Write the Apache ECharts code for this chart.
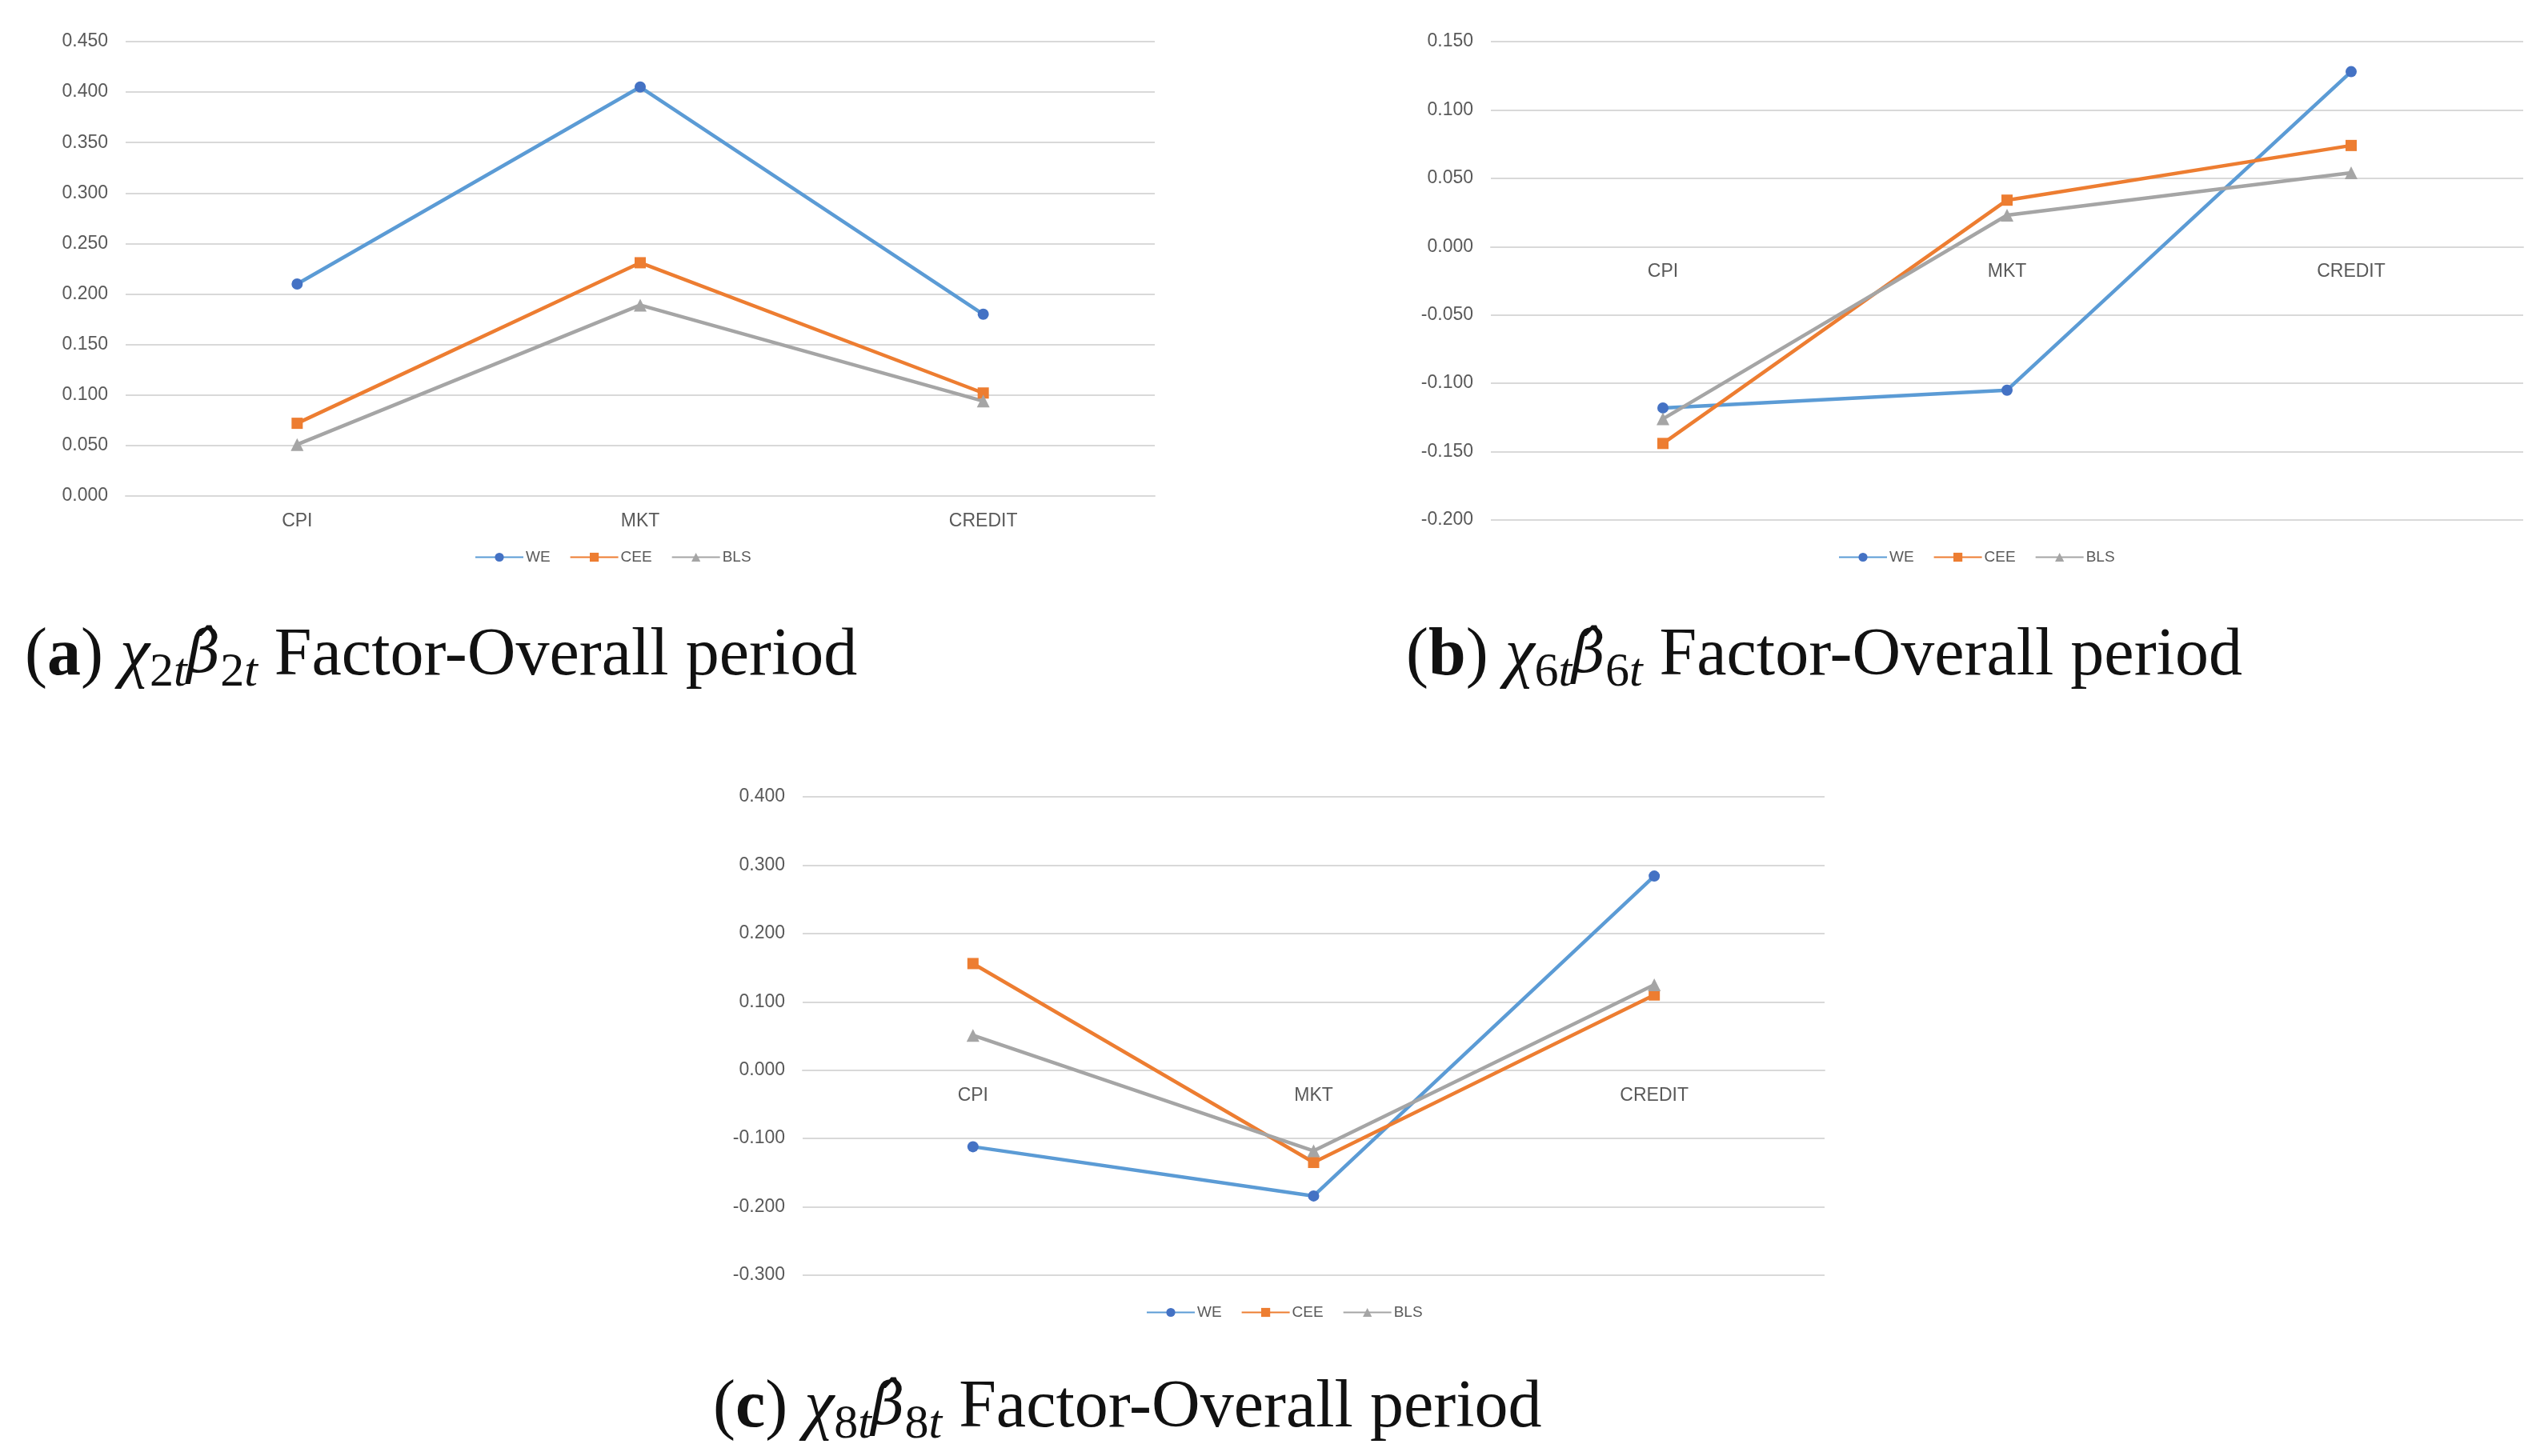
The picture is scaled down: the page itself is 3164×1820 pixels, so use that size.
<!DOCTYPE html>
<html>
<head>
<meta charset="utf-8">
<script src="https://cdn.jsdelivr.net/npm/echarts@6/dist/echarts.min.js"></script>
<style>
  html, body { margin: 0; padding: 0; background: #fff; }
  #chart { width: 3164px; height: 1820px; }
</style>
</head>
<body>
<div id="chart"></div>
<script>
/* ---------- data ---------- */
const categories = ['CPI', 'MKT', 'CREDIT'];
const seriesNames = ['WE', 'CEE', 'BLS'];

// (a) chi_2t beta_2t
const weA  = [0.210, 0.405, 0.180];
const ceeA = [0.072, 0.231, 0.102];
const blsA = [0.051, 0.189, 0.094];

// (b) chi_6t beta_6t
const weB  = [-0.118, -0.105, 0.128];
const ceeB = [-0.144, 0.034, 0.074];
const blsB = [-0.126, 0.023, 0.054];

// (c) chi_8t beta_8t
const weC  = [-0.112, -0.184, 0.284];
const ceeC = [0.156, -0.135, 0.110];
const blsC = [0.051, -0.118, 0.125];

// y axis ticks: [min, max, step]
const ticksA = [0, 0.45, 0.05];
const ticksB = [-0.2, 0.15, 0.05];
const ticksC = [-0.3, 0.4, 0.1];

const panelTags = ['a', 'b', 'c'];
const panelSubs = ['2', '6', '8'];

/* ---------- styles ---------- */
const lineColors   = ['#5B9BD5', '#ED7D31', '#A5A5A5'];
const markerColors = ['#4472C4', '#ED7D31', '#A5A5A5'];
const symbols      = ['circle', 'rect', 'triangle'];
const labelFont = 'Liberation Sans';
const textGrey = '#595959';

const chart = echarts.init(document.getElementById('chart'));

// panel layout (pixels)
const panels = [
  { grid: { left: 157, top: 52, width: 1286, height: 568 }, legend: { left: 588, top: 682 }, title: { left: 26, top: 764 } },
  { grid: { left: 1863, top: 52, width: 1290, height: 598 }, legend: { left: 2292, top: 682 }, title: { left: 1752, top: 764 } },
  { grid: { left: 1003, top: 996, width: 1277, height: 598 }, legend: { left: 1427, top: 1626 }, title: { left: 886, top: 1704 } }
];
const panelData = [[weA, ceeA, blsA], [weB, ceeB, blsB], [weC, ceeC, blsC]];
const panelTicks = [ticksA, ticksB, ticksC];

const grids = [], xAxes = [], yAxes = [], legends = [], titles = [], series = [];

const serif = 'Liberation Serif';
const capRich = {
  n:  { fontFamily: serif, fontSize: 84, fontWeight: 'normal', color: '#111', lineHeight: 104, verticalAlign: 'middle' },
  bd: { fontFamily: serif, fontSize: 84, fontWeight: 'bold', color: '#111', lineHeight: 104, verticalAlign: 'middle' },
  it: { fontFamily: serif, fontSize: 84, fontWeight: 'normal', fontStyle: 'italic', color: '#111', lineHeight: 104, verticalAlign: 'middle' },
  bh: { fontFamily: 'DejaVu Serif', fontSize: 72, fontWeight: 'normal', fontStyle: 'italic', color: '#111', lineHeight: 104, verticalAlign: 'middle' },
  s:  { fontFamily: serif, fontSize: 60, fontWeight: 'normal', color: '#111', verticalAlign: 'bottom', padding: [0, 0, 2, 0] },
  si: { fontFamily: serif, fontSize: 60, fontWeight: 'normal', fontStyle: 'italic', color: '#111', verticalAlign: 'bottom', padding: [0, 0, 2, 0] }
};

panels.forEach((p, i) => {
  grids.push(p.grid);
  const t = panelTicks[i];
  // keep the category axis on the zero line, like the source chart
  const zeroOffset = -p.grid.height * (0 - t[0]) / (t[1] - t[0]);
  xAxes.push({
    type: 'category',
    gridIndex: i,
    data: categories,
    boundaryGap: true,
    position: 'bottom',
    offset: zeroOffset,
    axisLine: { show: true, onZero: false, lineStyle: { color: '#d9d9d9', width: 2 } },
    axisTick: { show: false },
    axisLabel: { color: textGrey, fontFamily: labelFont, fontSize: 23, margin: 20 }
  });
  yAxes.push({
    type: 'value',
    gridIndex: i,
    min: t[0],
    max: t[1],
    interval: t[2],
    axisLine: { show: false },
    axisTick: { show: false },
    splitLine: { lineStyle: { color: '#d9d9d9', width: 2 } },
    axisLabel: {
      color: textGrey, fontFamily: labelFont, fontSize: 23, margin: 22,
      formatter: v => v.toFixed(3)
    }
  });
  legends.push({
    left: p.legend.left,
    top: p.legend.top,
    data: seriesNames,
    itemWidth: 60,
    itemHeight: 14,
    itemGap: 24,
    textStyle: { color: textGrey, fontFamily: labelFont, fontSize: 19, padding: [0, 0, 0, -2] }
  });
  const sub = panelSubs[i];
  titles.push({
    left: p.title.left,
    top: p.title.top,
    text: '{n|(}{bd|' + panelTags[i] + '}{n|) }{it|χ}{s|' + sub + '}{si|t}{bh|β̂}{s|' + sub + '}{si|t}{n| Factor-Overall period}',
    textStyle: { fontWeight: 'normal', rich: capRich }
  });
  seriesNames.forEach((name, k) => {
    series.push({
      name: name,
      type: 'line',
      xAxisIndex: i,
      yAxisIndex: i,
      data: panelData[i][k],
      symbol: symbols[k],
      symbolSize: k === 2 ? 16 : 14,
      showAllSymbol: true,
      lineStyle: { color: lineColors[k], width: 4.5 },
      itemStyle: { color: markerColors[k] },
      animation: false
    });
  });
});

chart.setOption({
  backgroundColor: '#ffffff',
  animation: false,
  title: titles,
  grid: grids,
  xAxis: xAxes,
  yAxis: yAxes,
  legend: legends,
  series: series
});
</script>
</body>
</html>
